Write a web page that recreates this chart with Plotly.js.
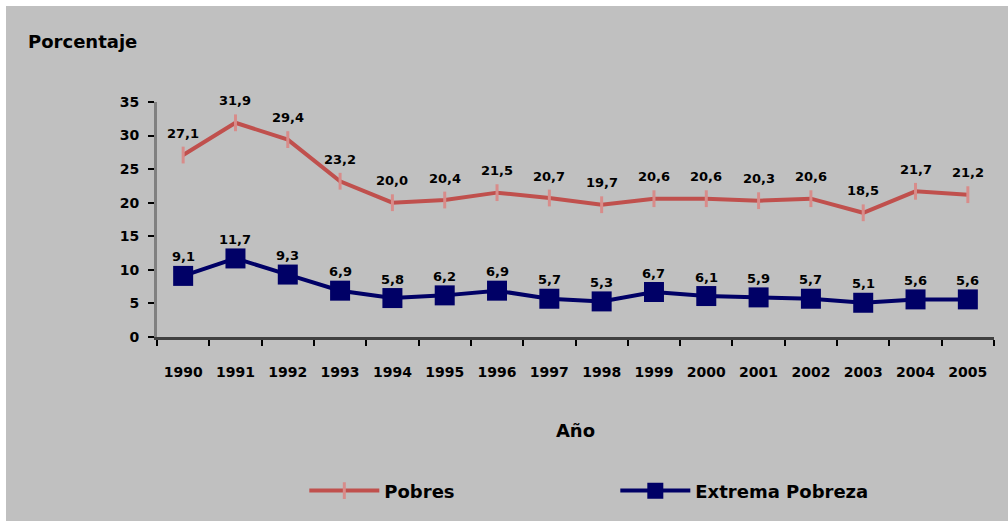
<!DOCTYPE html>
<html>
<head>
<meta charset="utf-8">
<script src="https://cdn.plot.ly/plotly-3.0.1.min.js"></script>
<style>
html,body{margin:0;padding:0;background:#ffffff;width:1008px;height:521px;overflow:hidden;}
#chart{position:absolute;left:6px;top:6px;width:1002px;height:515px;}
</style>
</head>
<body>
<div id="chart"></div>
<script>
var years = ['1990','1991','1992','1993','1994','1995','1996','1997','1998','1999','2000','2001','2002','2003','2004','2005'];
var pobres = [27.1,31.9,29.4,23.2,20.0,20.4,21.5,20.7,19.7,20.6,20.6,20.3,20.6,18.5,21.7,21.2];
var extrema = [9.1,11.7,9.3,6.9,5.8,6.2,6.9,5.7,5.3,6.7,6.1,5.9,5.7,5.1,5.6,5.6];
var yTicks = [0,5,10,15,20,25,30,35];

function fmt(v){ return v.toFixed(1).replace('.', ','); }

var FAM = 'DejaVu Sans, Verdana, sans-serif';
var labelFont = {family:FAM, size:13, color:'#000000', weight:'bold'};

var traces = [
  {
    x: years, y: pobres, name: 'Pobres', type: 'scatter', mode: 'lines+markers',
    line: {color:'#c0504d', width:4},
    marker: {symbol:'line-ns-open', size:12, color:'#d88c8a', line:{color:'#d88c8a', width:3}},
    hoverinfo: 'skip'
  },
  {
    x: years, y: extrema, name: 'Extrema Pobreza', type: 'scatter', mode: 'lines+markers',
    line: {color:'#000066', width:4},
    marker: {symbol:'square', size:20, color:'#000066'},
    hoverinfo: 'skip'
  }
];

var annotations = [];
years.forEach(function(yr, i){
  annotations.push({x: i, y: pobres[i], xref:'x', yref:'y', text: fmt(pobres[i]), showarrow:false, yshift:22, font:labelFont});
  annotations.push({x: i, y: extrema[i], xref:'x', yref:'y', text: fmt(extrema[i]), showarrow:false, yshift:19, font:labelFont});
});

var layout = {
  width: 1002, height: 515,
  paper_bgcolor: '#c0c0c0', plot_bgcolor: '#c0c0c0',
  margin: {l:151, r:14, t:96, b:180},
  showlegend: true,
  title: {text:'Porcentaje', x:0.022, xanchor:'left', xref:'container', y:0.93, yanchor:'middle', yref:'container',
          font:{family:FAM, size:18, color:'#000000', weight:'bold'}},
  xaxis: {
    type:'category', showgrid:false, zeroline:false,
    showline:true, linecolor:'#404040', linewidth:3,
    ticks:'outside', tickson:'boundaries', ticklen:6, tickwidth:2, tickcolor:'#000000',
    tickfont:{family:FAM, size:14, color:'#000000', weight:'bold'},
    ticklabelstandoff: 20,
    range:[-0.5, 15.5],
    title:{text:'Año', standoff:46, font:{family:FAM, size:18, color:'#000000', weight:'bold'}}
  },
  yaxis: {
    range:[0,35], tickvals:yTicks, showgrid:false, zeroline:false,
    showline:true, linecolor:'#808080', linewidth:3,
    ticks:'outside', ticklen:6, tickwidth:2, tickcolor:'#000000',
    tickfont:{family:FAM, size:14, color:'#000000', weight:'bold'},
    ticklabelstandoff: 6
  },
  legend: {
    orientation:'h', x:0.176, xanchor:'left', y:-0.655, yanchor:'middle',
    bgcolor:'rgba(0,0,0,0)', itemwidth:70, entrywidth:226, entrywidthmode:'pixels',
    font:{family:FAM, size:18, color:'#000000', weight:'bold'}
  },
  annotations: annotations
};

Plotly.newPlot('chart', traces, layout, {displayModeBar:false, staticPlot:true});
</script>
</body>
</html>
